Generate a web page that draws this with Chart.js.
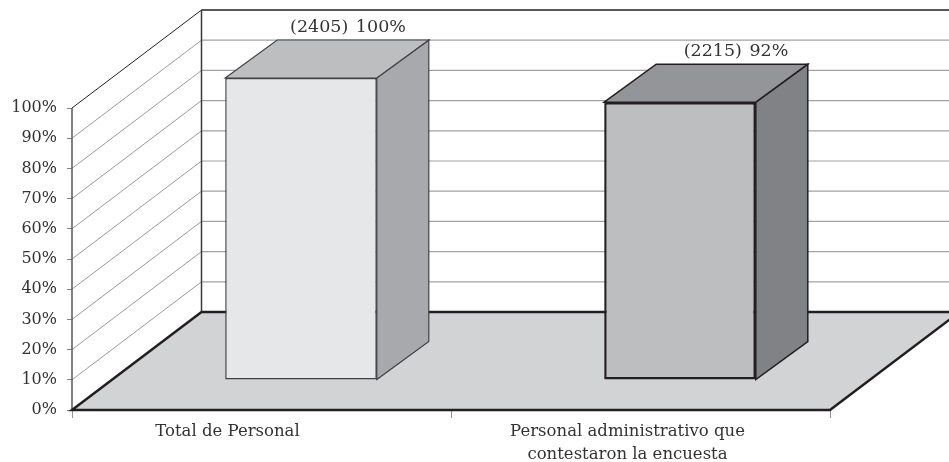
<!DOCTYPE html>
<html lang="es">
<head>
<meta charset="utf-8">
<title>Personal encuestado</title>
<script src="https://cdn.jsdelivr.net/npm/chart.js@4"></script>
<style>
    html, body { margin: 0; padding: 0; background: #fff; }
    canvas { display: block; }
</style>
</head>
<body>
<canvas id="encuestaChart" width="949" height="462"></canvas>
<script>
// --- 1. DATA ---
const categories = [
    ['Total de Personal'],
    ['Personal administrativo que', 'contestaron la encuesta']
];
const percentValues = [100, 92];
const barLabels = ['(2405) 100%', '(2215) 92%'];

// --- 2. STYLE ---
const FONT_FAMILY = '"DejaVu Serif", serif';
const TEXT_COLOR = '#333335';
const INK = '#231f20';

// 3D box of the plot: how far the back wall sits from the front plane
const WALL_DX = 129.5;
const WALL_DY = 98;
// where the bars stand on the floor, and how deep they are
const BAR_SHIFT_X = 39.5;
const BAR_SHIFT_Y = 30;
const BAR_DEPTH_X = 52;
const BAR_DEPTH_Y = 38;
const LABEL_NUDGE_X = [-5, 4];
const CATEGORY_NUDGE_X = [-34, -13]; // labels sit left of the category centre

const frontColors = ['#e6e7e8', '#bcbec0'];
const topColors = ['#bcbec0', '#939598'];
const sideColors = ['#a7a9ac', '#808285'];
const edgeColors = ['#414042', '#231f20'];
const edgeWidths = [1.5, 2.5];
const sideEdgeWidths = [1.2, 1.5];

function line(ctx, x1, y1, x2, y2, color, width) {
    ctx.beginPath();
    ctx.moveTo(x1, y1);
    ctx.lineTo(x2, y2);
    ctx.strokeStyle = color;
    ctx.lineWidth = width;
    ctx.stroke();
}

function poly(ctx, pts, fill, stroke, width) {
    ctx.beginPath();
    pts.forEach((p, i) => (i ? ctx.lineTo(p[0], p[1]) : ctx.moveTo(p[0], p[1])));
    ctx.closePath();
    ctx.fillStyle = fill;
    ctx.fill();
    if (stroke) {
        ctx.strokeStyle = stroke;
        ctx.lineWidth = width;
        ctx.lineJoin = 'miter';
        ctx.stroke();
    }
}

// --- 3. 3D PLUGIN (floor, walls, bar sides) ---
const box3d = {
    id: 'box3d',
    beforeDatasetsDraw(chart) {
        const { ctx, scales: { x, y } } = chart;
        const left = x.left;
        const right = x.right;
        const y0 = y.getPixelForValue(0);
        const y100 = y.getPixelForValue(100);

        ctx.save();

        // gridlines: side wall + back wall
        y.ticks.forEach(t => {
            if (t.value === 0 || t.value === 100) return;
            const py = y.getPixelForValue(t.value);
            line(ctx, left, py, left + WALL_DX, py - WALL_DY, '#989a9d', 1);
            line(ctx, left + WALL_DX, py - WALL_DY, right + WALL_DX, py - WALL_DY, '#a0a2a5', 1.2);
        });
        // top of the walls
        line(ctx, left, y100, left + WALL_DX, y100 - WALL_DY, INK, 1);
        line(ctx, left + WALL_DX, y100 - WALL_DY, right + WALL_DX, y100 - WALL_DY, INK, 1.4);
        line(ctx, left + WALL_DX, y100 - WALL_DY, left + WALL_DX, y0 - WALL_DY, '#3a3a3c', 1.5);
        line(ctx, left, y100, left, y0, '#58595b', 1.5);

        // floor
        poly(ctx, [
            [left, y0],
            [left + WALL_DX, y0 - WALL_DY],
            [right + WALL_DX, y0 - WALL_DY],
            [right, y0]
        ], '#d1d3d4', INK, 2.5);

        // bar top and side faces, the front face is the real bar
        chart.getDatasetMeta(0).data.forEach((bar, i) => {
            const l = bar.x - bar.width / 2 + BAR_SHIFT_X;
            const r = bar.x + bar.width / 2 + BAR_SHIFT_X;
            const t = bar.y - BAR_SHIFT_Y;
            const b = bar.base - BAR_SHIFT_Y;
            poly(ctx, [
                [r, t], [r + BAR_DEPTH_X, t - BAR_DEPTH_Y],
                [r + BAR_DEPTH_X, b - BAR_DEPTH_Y], [r, b]
            ], sideColors[i], edgeColors[i], sideEdgeWidths[i]);
            poly(ctx, [
                [l, t], [l + BAR_DEPTH_X, t - BAR_DEPTH_Y],
                [r + BAR_DEPTH_X, t - BAR_DEPTH_Y], [r, t]
            ], topColors[i], edgeColors[i], sideEdgeWidths[i]);
        });

        ctx.restore();

        // the library draws the bars next, moved back into the box
        ctx.save();
        ctx.translate(BAR_SHIFT_X, -BAR_SHIFT_Y);
    },
    afterDatasetsDraw(chart) {
        const { ctx, chartArea, scales: { x } } = chart;
        ctx.restore();

        ctx.save();
        ctx.fillStyle = TEXT_COLOR;
        ctx.textAlign = 'center';
        ctx.textBaseline = 'middle';

        // value labels over the bars
        ctx.font = '17.5px ' + FONT_FAMILY;
        ctx.wordSpacing = '2px';
        chart.getDatasetMeta(0).data.forEach((bar, i) => {
            const lx = bar.x + BAR_SHIFT_X + BAR_DEPTH_X + LABEL_NUDGE_X[i];
            const ly = bar.y - BAR_SHIFT_Y - BAR_DEPTH_Y - 12.5;
            ctx.fillText(barLabels[i], lx, ly);
        });

        // category labels
        ctx.font = '16.5px ' + FONT_FAMILY;
        ctx.wordSpacing = '0px';
        categories.forEach((lines, i) => {
            lines.forEach((txt, j) => {
                ctx.fillText(txt, x.getPixelForTick(i) + CATEGORY_NUDGE_X[i], chartArea.bottom + 21.5 + j * 23);
            });
        });
        ctx.restore();
    }
};

// --- 4. CHART SETUP ---
const ctx = document.getElementById('encuestaChart').getContext('2d');
new Chart(ctx, {
    type: 'bar',
    plugins: [box3d],
    data: {
        labels: categories,
        datasets: [{
            data: percentValues,
            backgroundColor: frontColors,
            borderColor: edgeColors,
            borderWidth: edgeWidths,
            borderSkipped: false,
            barPercentage: 1,
            categoryPercentage: 0.4,
            clip: false
        }]
    },
    options: {
        responsive: false,
        animation: false,
        layout: { padding: { top: 108, right: 119, left: 0, bottom: 0 } },
        plugins: {
            legend: { display: false },
            tooltip: { enabled: false }
        },
        scales: {
            x: {
                afterFit: scale => { scale.height = 52; },
                border: { display: false },
                grid: { drawOnChartArea: false, offset: true, tickLength: 8, color: '#939598' },
                ticks: { display: false }
            },
            y: {
                min: 0,
                max: 100,
                afterFit: scale => { scale.width = 72; },
                border: { display: false },
                grid: { drawOnChartArea: false, tickLength: 5, color: '#808285' },
                ticks: {
                    stepSize: 10,
                    color: TEXT_COLOR,
                    padding: 10,
                    callback: v => v + '%',
                    font: { family: FONT_FAMILY, size: 16 }
                }
            }
        }
    }
});
</script>
</body>
</html>
